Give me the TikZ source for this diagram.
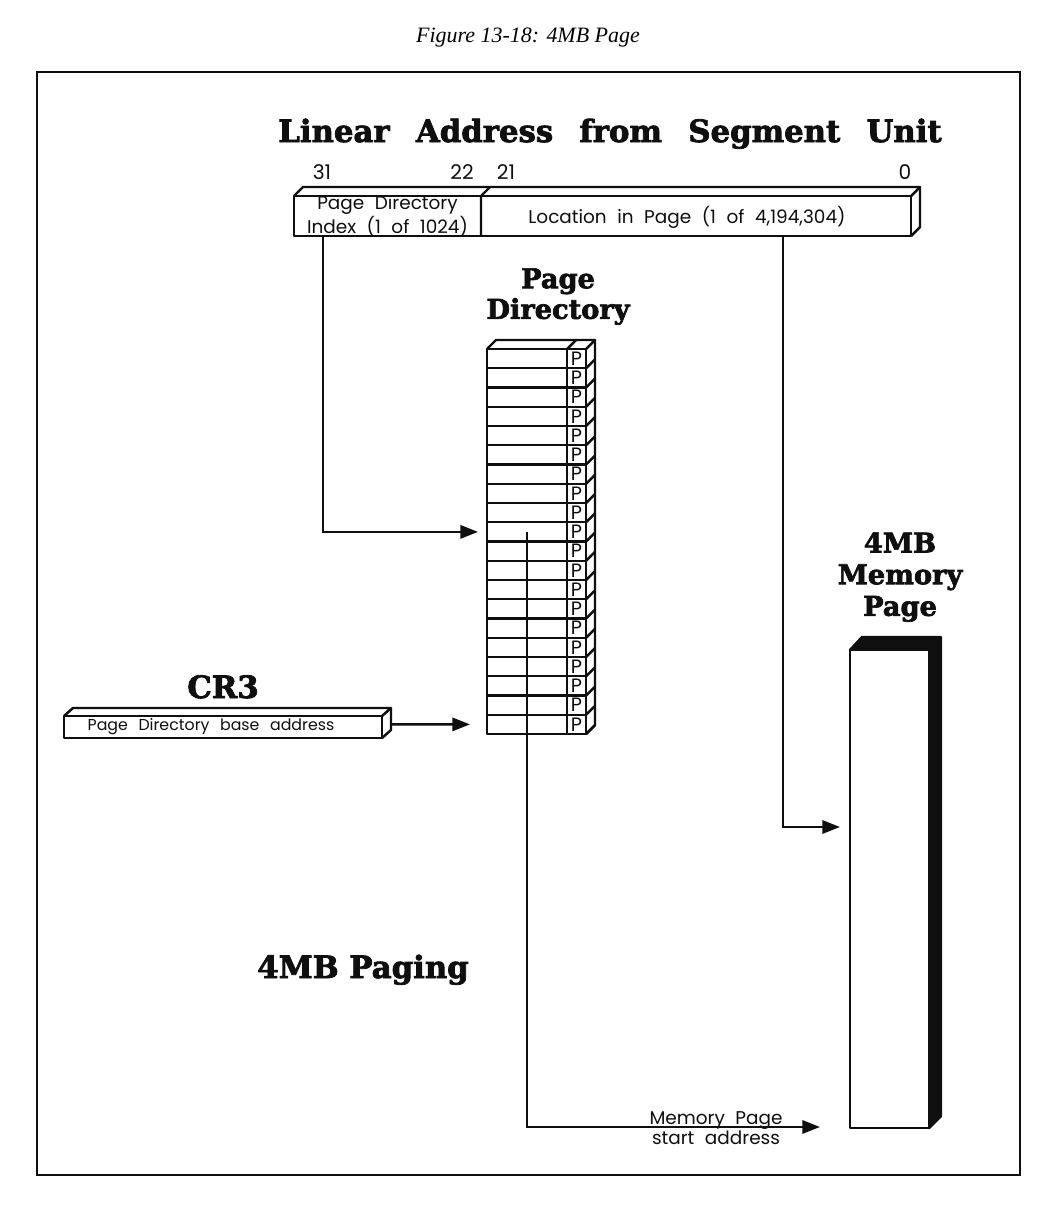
\documentclass[tikz,border=0pt]{standalone}
\usepackage{fontspec}
\usepackage{tikz}
\usetikzlibrary{
  arrows.meta,
  calc
}
\newfontfamily\labfont{Poppins}
\newfontfamily\headfont{DejaVu Serif Bold}[FakeBold=2.5]
\newfontfamily\capfont{Liberation Serif}
\newcommand\headsel{\headfont\fontsize{17.5}{19}\selectfont}
\newcommand\linsel{\headfont\fontsize{17.5}{19}\selectfont\spaceskip=15pt\relax}
\newcommand\stacksel{\headfont\fontsize{15.5}{17.4}\selectfont}
\newcommand\memsel{\headfont\fontsize{15.5}{18}\selectfont}
\newcommand\labsel[1]{\labfont\fontsize{#1}{8.6}\selectfont\spaceskip=6pt\relax}
\newcommand\startsel{\labfont\fontsize{10.5}{9}\selectfont\spaceskip=6pt\relax}
\usepackage{xcolor}
\definecolor{inkblack}{RGB}{15, 15, 15}
\definecolor{paper}{RGB}{255, 255, 255}
\tikzset{
  % Ramka va quti chiziqlari
  framebox/.style  = {draw=inkblack, line width=0.9pt},
  boxline/.style   = {draw=inkblack, line width=1.4pt, line join=round},
  blackface/.style = {fill=inkblack, draw=inkblack, line width=1.4pt, line join=round},
  % Strelkalar
  flowarrow/.style = {-{Triangle[length=10pt, width=7.5pt]}, draw=inkblack, line width=1.4pt},
  % Matnlar
  headtext/.style  = {font=\headsel, inner sep=0pt, align=center, text=inkblack},
  stacktext/.style = {font=\stacksel, inner sep=0pt, align=center, text=inkblack},
  fieldtext/.style = {font=\labsel{10.5}, inner sep=0pt, align=center, text=inkblack},
  bitnum/.style    = {font=\labfont\fontsize{11.5}{12}\selectfont, inner sep=0pt, text=inkblack},
  pbit/.style      = {font=\labfont\fontsize{11}{10}\selectfont, inner sep=0pt, text=inkblack},
}

\begin{document}
\begin{tikzpicture}[x=0.02cm, y=-0.02cm]
  \useasboundingbox[fill=paper] (0,0) rectangle (1057,1230);
  % sarlavha va ramka
  \node[font=\capfont\itshape\fontsize{12.5}{14}\selectfont] (title) at (528,38) {Figure 13-18: 4MB Page};
  \draw[framebox] (37,72) rectangle (1020,1175);

  % chiziqli manzil
  \node[headtext, anchor=base, font=\linsel] (linhead) at (610,142) {Linear Address from Segment Unit};
  \node[bitnum, anchor=base] (b31) at (322,179) {31};
  \node[bitnum, anchor=base] (b22) at (462,179) {22};
  \node[bitnum, anchor=base] (b21) at (506,179) {21};
  \node[bitnum, anchor=base] (b0)  at (905,179) {0};
  \draw[boxline, fill=paper] (294,196) rectangle (911,236);
  \draw[boxline] (294,196) -- ++(9,-9) -- (920,187) -- (911,196);
  \draw[boxline] (911,236) -- (920,227) -- (920,187);
  \draw[boxline] (481,196) -- (481,236) (481,196) -- (490,187);
  \node[fieldtext] (pdi) at (387.5,216) {Page Directory\\Index (1 of 1024)};
  \node[fieldtext] (loc) at (687,217) {Location in Page (1 of 4,194,304)};
  \coordinate (pdiout) at (323,236);
  \coordinate (locout) at (783,236);

  % sahifa katalogi
  \node[stacktext, anchor=north] (pdhead) at (558,268) {Page\\Directory};
  \foreach \i in {1,...,20} {
    \pgfmathsetmacro\ya{349+(\i-1)*19.25}
    \pgfmathsetmacro\yb{\ya+19.25}
    \draw[boxline] (487,\ya) rectangle (586,\yb);
    \draw[boxline] (567,\ya) -- (567,\yb);
    \draw[boxline] (586,\yb) -- ++(9,-9);
    \node[pbit] (p\i) at (576.5,{(\ya+\yb)/2}) {P};
    \coordinate (row\i) at (487,{(\ya+\yb)/2});
  }
  \draw[boxline] (487,349) -- (496,340) -- (595,340) -- (586,349);
  \draw[boxline] (567,349) -- (576,340);
  \draw[boxline] (595,340) -- (595,725) -- (586,734);
  \coordinate (pdsel) at ($(row10)+(40,0)$);

  % CR3
  \node[headtext, anchor=base] (cr3head) at (223,698) {CR3};
  \draw[boxline, fill=paper] (64,716) rectangle (382,738);
  \draw[boxline] (64,716) -- ++(9,-8) -- (391,708) -- (382,716);
  \draw[boxline] (382,738) -- (391,730) -- (391,708);
  \node[fieldtext, font=\labsel{9}] (cr3text) at (211,727) {Page Directory base address};
  \coordinate (cr3out) at (391,724.4);

  % 4MB xotira sahifasi
  \node[stacktext, anchor=north, font=\memsel] (memhead) at (900,532) {4MB\\Memory\\Page};
  \draw[blackface] (850,650) -- ++(12,-13) -- (941,637) -- (941,1116) -- (929,1128) -- (929,650) -- cycle;
  \draw[boxline, fill=paper] (850,650) rectangle (929,1128);
  \coordinate (memin) at (850,827);
  \coordinate (membase) at (850,1127);

  \node[headtext, anchor=base] (paging) at (363,978) {4MB Paging};

  % strelkalar
  \draw[flowarrow, shorten >=0.18cm] (pdiout) |- (row10);
  \draw[flowarrow, shorten >=0.34cm] (cr3out) -- (row20);
  \draw[flowarrow, shorten >=0.2cm] (locout) |- (memin);
  \draw[flowarrow, shorten >=0.6cm] (pdsel) |- (membase);
  \node[fieldtext, font=\startsel] (startaddr) at (716,1128) {Memory Page\\start address};
\end{tikzpicture}
\end{document}
